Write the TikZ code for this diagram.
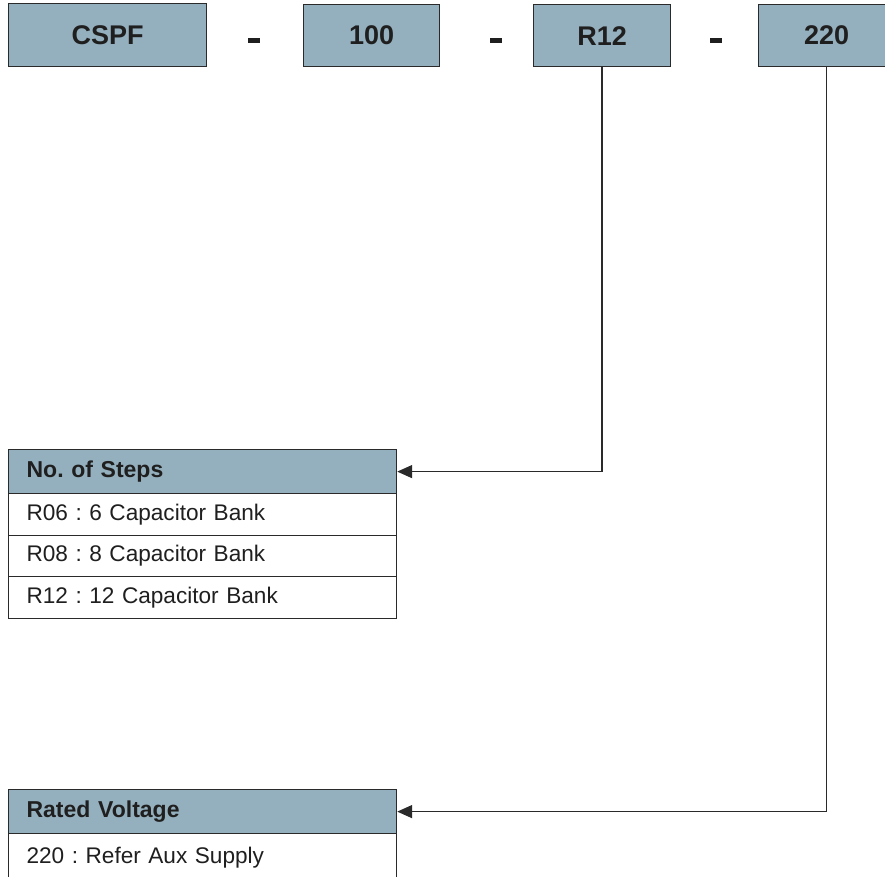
\documentclass[tikz,border=0pt]{standalone}
\usepackage{fontspec}
\setmainfont{Liberation Sans}
\usetikzlibrary{arrows.meta}
\definecolor{boxblue}{HTML}{94AFBD}
\definecolor{edge}{HTML}{2A2A2A}
\tikzset{
  codebox/.style={draw=edge, line width=1.3pt, fill=boxblue, anchor=north west,
    inner sep=0pt, font=\fontsize{27}{30}\selectfont\bfseries, text=black!88},
  sep/.style={inner sep=0pt, text=black!88},
  head/.style={draw=edge, line width=1.2pt, fill=boxblue, anchor=north west,
    text width=352pt, inner xsep=18pt, inner ysep=0pt, minimum height=44pt,
    align=left, font=\fontsize{23}{26}\selectfont\bfseries, text=black!88},
  row/.style={draw=edge, line width=1.2pt, fill=white, anchor=north west,
    text width=352pt, inner xsep=18pt, inner ysep=0pt, minimum height=41.5pt,
    align=left, font=\fontsize{22.6}{25}\selectfont, text=black!88},
  conn/.style={draw=edge, line width=1.5pt, -{Triangle[length=15pt,width=13pt]}}
}
\frenchspacing
\begin{document}
\begin{tikzpicture}[x=1pt,y=-1pt]
\useasboundingbox (0,0) rectangle (885,876);

% code fields
\node[codebox, minimum width=198pt, minimum height=63pt] (cspf) at (8,3) {CSPF};
\node[codebox, minimum width=136pt, minimum height=62pt] (rating) at (303,4) {100};
\node[codebox, minimum width=137pt, minimum height=62pt] (steps) at (533,4) {R12};
\node[codebox, minimum width=136pt, minimum height=62pt] (volt) at (758,4) {220};

% separators between the fields
\node[sep] (d1) at (254,40) {\rule{12pt}{5pt}};
\node[sep] (d2) at (496,40) {\rule{12pt}{5pt}};
\node[sep] (d3) at (716,40) {\rule{12pt}{5pt}};

% number of steps table
\node[head] (stepshead) at (8,449) {No. of Steps};
\node[row] (r06) at (8,493) {R06 : 6 Capacitor Bank};
\node[row] (r08) at (8,534.5) {R08 : 8 Capacitor Bank};
\node[row] (r12) at (8,576) {R12 : 12 Capacitor Bank};

% rated voltage table
\node[head] (volthead) at (8,789) {Rated Voltage};
\node[row, minimum height=48pt] (aux) at (8,833) {\raisebox{4pt}{220 : Refer Aux Supply}};

% connectors
\draw[conn] (steps.south) |- (stepshead.east);
\draw[conn] (volt.south) |- (volthead.east);
\end{tikzpicture}
\end{document}
